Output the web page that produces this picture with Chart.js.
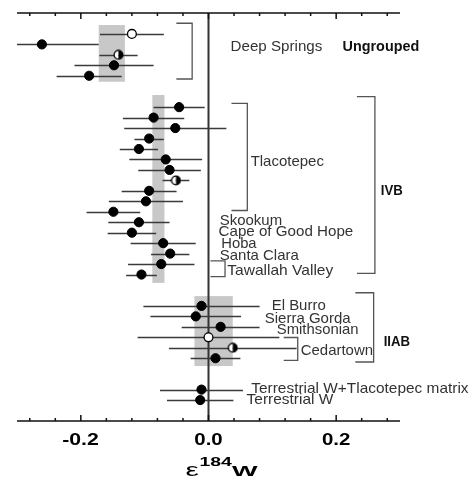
<!DOCTYPE html>
<html>
<head>
<meta charset="utf-8">
<script src="https://cdn.jsdelivr.net/npm/chart.js@4/dist/chart.umd.min.js"></script>
<style>
  body { margin: 0; background: #fff; }
  #wrap { width: 471px; height: 485px; }
</style>
</head>
<body>
<div id="wrap"><canvas id="chart"></canvas></div>
<script>
// rows are positions on the (reversed) vertical axis, one per sample
const deepSpringsRows = [0, 1, 2, 3, 4];
const deepSpringsVal = [-0.120, -0.261, -0.141, -0.148, -0.187];
const deepSpringsErr = [0.050, 0.089, 0.030, 0.062, 0.051];
const deepSpringsMark = ['open', 'filled', 'half', 'filled', 'filled'];

const ivbRows = [7, 8, 9, 10, 11, 12, 13, 14, 15, 16, 17, 18, 19, 20, 21, 22, 23];
const ivbVal = [-0.046, -0.086, -0.052, -0.093, -0.109, -0.067, -0.061, -0.051, -0.093, -0.098, -0.149, -0.109, -0.120, -0.071, -0.060, -0.074, -0.105];
const ivbErr = [0.040, 0.048, 0.080, 0.023, 0.030, 0.057, 0.049, 0.021, 0.043, 0.058, 0.042, 0.048, 0.038, 0.051, 0.030, 0.052, 0.024];
const ivbMark = ['filled', 'filled', 'filled', 'filled', 'filled', 'filled', 'filled', 'half', 'filled', 'filled', 'filled', 'filled', 'filled', 'filled', 'filled', 'filled', 'filled'];

const iiabRows = [26, 27, 28, 29, 30, 31];
const iiabVal = [-0.011, -0.020, 0.019, 0.000, 0.038, 0.011];
const iiabErr = [0.091, 0.071, 0.061, 0.111, 0.100, 0.039];
const iiabMark = ['filled', 'filled', 'filled', 'open', 'half', 'filled'];

const terrestrialRows = [34, 35];
const terrestrialVal = [-0.011, -0.013];
const terrestrialErr = [0.065, 0.052];
const terrestrialMark = ['filled', 'filled'];

// group means (grey bands)
const bandLo = [-0.172, -0.088, -0.022];
const bandHi = [-0.131, -0.069, 0.038];

const sampleLabels = ['Deep Springs', 'Tlacotepec', 'Skookum', 'Cape of Good Hope', 'Hoba', 'Santa Clara',
  'Tawallah Valley', 'El Burro', 'Sierra Gorda', 'Smithsonian', 'Cedartown',
  'Terrestrial W+Tlacotepec matrix', 'Terrestrial W'];
const groupLabels = ['Ungrouped', 'IVB', 'IIAB'];

const xTicks = [-0.28, -0.24, -0.2, -0.16, -0.12, -0.08, -0.04, 0, 0.04, 0.08, 0.12, 0.16, 0.2, 0.24, 0.28];
const xTickLabelValues = [-0.2, 0, 0.2];
const xTickLabels = ['-0.2', '0.0', '0.2'];

const allRows = [...deepSpringsRows, ...ivbRows, ...iiabRows, ...terrestrialRows];
const allVal = [...deepSpringsVal, ...ivbVal, ...iiabVal, ...terrestrialVal];
const allErr = [...deepSpringsErr, ...ivbErr, ...iiabErr, ...terrestrialErr];
const allMark = [...deepSpringsMark, ...ivbMark, ...iiabMark, ...terrestrialMark];

function pointsOf(kind) {
  const out = [];
  allVal.forEach((v, i) => {
    if (allMark[i] === kind) out.push({ x: v, y: allRows[i] });
  });
  return out;
}

// half filled marker: left white, right black
function halfMarker() {
  const c = document.createElement('canvas');
  c.width = 11; c.height = 11;
  const g = c.getContext('2d');
  g.beginPath();
  g.arc(5.5, 5.5, 4.4, Math.PI / 2, Math.PI * 1.5);
  g.fillStyle = '#fff';
  g.fill();
  g.beginPath();
  g.arc(5.5, 5.5, 4.4, -Math.PI / 2, Math.PI / 2);
  g.fillStyle = '#000';
  g.fill();
  g.beginPath();
  g.arc(5.5, 5.5, 4.4, 0, Math.PI * 2);
  g.lineWidth = 1.2;
  g.strokeStyle = '#000';
  g.stroke();
  return c;
}

// layout for the grey bands (row extents), brackets and text
const bandRows = [[-0.85, 4.57], [5.84, 23.8], [25.06, 31.75]];
const brackets = [
  [-0.0503, -0.0256, -1.02, 4.31],
  [0.036, 0.0608, 6.63, 16.88],
  [0.2325, 0.2607, 6.0, 22.88],
  [0.0031, 0.0259, 21.7, 23.2],
  [0.230, 0.2587, 24.74, 31.36],
  [0.1178, 0.1398, 29.02, 31.2]
];
// [label index, x value, row, width px]
const sampleLabelPos = [
  [0, 0.0346, 1.27, 91.7],
  [1, 0.066, 12.21, 73.3],
  [2, 0.0177, 17.85, 62.3],
  [3, 0.0157, 18.93, 134.7],
  [4, 0.020, 20.11, 35.3],
  [5, 0.0177, 21.23, 79],
  [6, 0.0294, 22.63, 106],
  [7, 0.099, 26.0, 54],
  [8, 0.088, 27.25, 86],
  [9, 0.107, 28.3, 81.7],
  [10, 0.1445, 30.28, 72.3],
  [11, 0.067, 33.97, 217.3],
  [12, 0.0597, 35.0, 86.7]
];
const groupLabelPos = [
  [0, 0.210, 1.27, 76.7],
  [1, 0.270, 14.99, 22],
  [2, 0.2744, 29.42, 26.3]
];

function fitText(ctx, text, x, y, font, width, color, baseline) {
  ctx.save();
  ctx.font = font;
  const w = ctx.measureText(text).width;
  ctx.translate(x, y);
  ctx.scale(width / w, 1);
  ctx.fillStyle = color;
  ctx.textBaseline = baseline;
  ctx.textAlign = 'left';
  ctx.fillText(text, 0, 0);
  ctx.restore();
}

const overlay = {
  id: 'overlay',
  beforeDatasetsDraw(chart) {
    const { ctx, chartArea: a, scales: { x, y } } = chart;
    ctx.save();
    // group bands
    ctx.fillStyle = '#c8c8c8';
    bandLo.forEach((lo, i) => {
      const x1 = x.getPixelForValue(lo), x2 = x.getPixelForValue(bandHi[i]);
      const y1 = y.getPixelForValue(bandRows[i][0]), y2 = y.getPixelForValue(bandRows[i][1]);
      ctx.fillRect(x1, y1, x2 - x1, y2 - y1);
    });
    // zero line
    ctx.strokeStyle = '#333';
    ctx.lineWidth = 2;
    ctx.beginPath();
    ctx.moveTo(x.getPixelForValue(0), a.top);
    ctx.lineTo(x.getPixelForValue(0), a.bottom);
    ctx.stroke();
    // error bars
    ctx.beginPath();
    ctx.rect(a.left, a.top, a.right - a.left, a.bottom - a.top);
    ctx.clip();
    ctx.strokeStyle = '#3a3a3a';
    ctx.lineWidth = 1.5;
    allVal.forEach((v, i) => {
      const py = Math.round(y.getPixelForValue(allRows[i])) + 0.5;
      ctx.beginPath();
      ctx.moveTo(x.getPixelForValue(v - allErr[i]), py);
      ctx.lineTo(x.getPixelForValue(v + allErr[i]), py);
      ctx.stroke();
    });
    ctx.restore();
  },
  afterDatasetsDraw(chart) {
    const { ctx, chartArea: a, scales: { x, y } } = chart;
    ctx.save();
    // top and bottom axes with inward ticks
    ctx.strokeStyle = '#111';
    ctx.lineWidth = 1.5;
    ctx.beginPath();
    ctx.moveTo(a.left, a.top); ctx.lineTo(a.right, a.top);
    ctx.moveTo(a.left, a.bottom); ctx.lineTo(a.right, a.bottom);
    xTicks.forEach(t => {
      const px = x.getPixelForValue(t);
      const len = xTickLabelValues.some(m => Math.abs(m - t) < 1e-9) ? 6 : 3;
      ctx.moveTo(px, a.top); ctx.lineTo(px, a.top + len);
      ctx.moveTo(px, a.bottom); ctx.lineTo(px, a.bottom - len);
    });
    ctx.stroke();

    // tick labels
    xTickLabels.forEach((s, i) => {
      const px = x.getPixelForValue(xTickLabelValues[i]);
      const w = s.length === 4 ? 36.6 : 28.4;
      const off = s.length === 4 ? -18.6 : -14.2;
      fitText(ctx, s, px + off, a.bottom + 24, 'bold 17px "Liberation Sans", Arial, sans-serif', w, '#000', 'alphabetic');
    });

    // axis title: epsilon 184 W
    const cx = x.getPixelForValue(0);
    fitText(ctx, '\u03b5', cx - 23, a.bottom + 55, '18px "Liberation Sans", Arial, sans-serif', 13.3, '#000', 'alphabetic');
    fitText(ctx, '184', cx - 9, a.bottom + 45, 'bold 13px "Liberation Sans", Arial, sans-serif', 32.4, '#000', 'alphabetic');
    fitText(ctx, 'W', cx + 23.5, a.bottom + 55, 'bold 15px "Liberation Sans", Arial, sans-serif', 25.6, '#000', 'alphabetic');

    // brackets
    ctx.strokeStyle = '#555';
    ctx.lineWidth = 1.3;
    brackets.forEach(b => {
      const x1 = x.getPixelForValue(b[0]), x2 = x.getPixelForValue(b[1]);
      const y1 = y.getPixelForValue(b[2]), y2 = y.getPixelForValue(b[3]);
      ctx.beginPath();
      ctx.moveTo(x1, y1); ctx.lineTo(x2, y1); ctx.lineTo(x2, y2); ctx.lineTo(x1, y2);
      ctx.stroke();
    });

    // labels
    sampleLabelPos.forEach(p => {
      fitText(ctx, sampleLabels[p[0]], x.getPixelForValue(p[1]), y.getPixelForValue(p[2]),
        '15px "Liberation Sans", Arial, sans-serif', p[3], '#333', 'middle');
    });
    groupLabelPos.forEach(p => {
      fitText(ctx, groupLabels[p[0]], x.getPixelForValue(p[1]), y.getPixelForValue(p[2]),
        'bold 15px "Liberation Sans", Arial, sans-serif', p[3], '#111', 'middle');
    });
    ctx.restore();
  }
};

new Chart(document.getElementById('chart'), {
  type: 'scatter',
  data: {
    datasets: [
      {
        data: pointsOf('filled'),
        pointStyle: 'circle',
        pointRadius: 4.6,
        backgroundColor: '#000',
        borderColor: '#000',
        borderWidth: 1
      },
      {
        data: pointsOf('open'),
        pointStyle: 'circle',
        pointRadius: 4.4,
        backgroundColor: '#fff',
        borderColor: '#000',
        borderWidth: 1.3
      },
      {
        data: pointsOf('half'),
        pointStyle: halfMarker(),
        pointRadius: 5
      }
    ]
  },
  options: {
    responsive: true,
    maintainAspectRatio: false,
    devicePixelRatio: 1,
    animation: false,
    layout: { padding: { left: 17, right: 71, top: 13, bottom: 64 } },
    scales: {
      x: { type: 'linear', min: -0.3, max: 0.3, display: false },
      y: { type: 'linear', min: -2, max: 37, reverse: true, display: false }
    },
    plugins: {
      legend: { display: false },
      tooltip: { enabled: false }
    },
    events: []
  },
  plugins: [overlay]
});
</script>
</body>
</html>
